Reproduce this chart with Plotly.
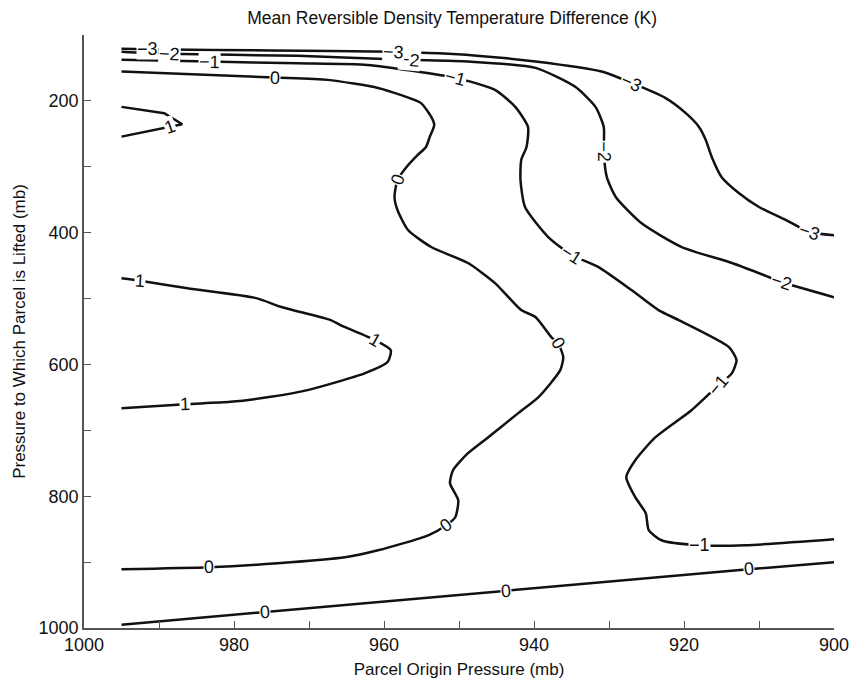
import plotly.graph_objects as go

# Contour lines (x = parcel origin pressure, y = lifted-to pressure), in mb
cm3_x = [995, 991.6, 975, 958.8, 948, 939.8, 931.0, 927.0, 922.5, 919.8, 918.0, 917.1, 916.3, 915.0, 912.7, 910.0, 906.4, 903.3, 900]
cm3_y = [121, 121.8, 123.5, 125.6, 131, 140.3, 155.5, 172.7, 195.4, 218.2, 239.5, 259.2, 285.1, 315.4, 339.7, 361.0, 380.8, 399.0, 404]

cm2_x = [995, 989.3, 971.5, 957.1, 948.8, 939.8, 934.5, 931.8, 930.7, 930.7, 930.3, 929.1, 925.7, 920.3, 913.6, 908.7, 907.0, 900]
cm2_y = [125.6, 128.6, 131.6, 137.7, 140.3, 149.9, 178.7, 209.1, 239.5, 277.5, 315.4, 345.8, 385.3, 421.8, 446.1, 467.3, 474.9, 498]

cm1_x = [995, 983.3, 971.5, 962.2, 950.5, 945.2, 942.5, 940.8, 941.0, 941.7, 941.8, 941.2, 938.1, 935.0, 931.4, 927.0,
         923.4, 920.7, 914.0, 913.0, 913.6, 915.4, 919.0, 923.8, 926.5, 927.7, 926.5, 925.1, 924.7, 923.0, 918.0, 911.8, 900]
cm1_y = [137.7, 140.3, 143.0, 145.5, 165.0, 183.3, 209.1, 239.5, 269.9, 289.6, 320.0, 361.0, 406.6, 433.9, 452.2, 487.1,
         517.5, 532.7, 573.7, 593.4, 613.2, 631.4, 669.4, 710.4, 745.3, 771.1, 801.5, 825.8, 851.6, 866.8, 874.4, 874.4, 865.3]

c0a_x = [995, 974.6, 967.5, 960.8, 957.8, 955.1, 953.7, 953.3, 953.9, 954.4, 955.5, 957.1, 958.2, 958.6, 958.2, 956.8,
         953.7, 948.8, 945.2, 941.7, 939.8, 937.7, 936.8, 936.1, 936.5, 939.4, 942.1, 946.1, 948.8, 950.8, 951.2, 950.1,
         950.5, 951.7, 954.1, 960.8, 965.2, 974.2, 983.3, 995]
c0a_y = [155.5, 164.6, 168.1, 180.3, 190.9, 203.0, 224.3, 236.5, 254.7, 269.9, 282.0, 301.8, 320.0, 345.8, 365.6, 396.0,
         421.8, 446.1, 476.5, 517.5, 528.1, 558.5, 567.6, 588.9, 608.6, 649.6, 673.9, 710.4, 734.7, 760.5, 780.3, 806.1,
         831.9, 844.1, 859.3, 882.1, 892.7, 901.8, 907.9, 911.0]

c0b_x = [995, 975.9, 955.5, 943.7, 911.4, 900]
c0b_y = [995, 975.7, 955.0, 943.9, 911.0, 900.3]

c1a_x = [995, 989.3, 986.9, 988.6, 992.0, 995]
c1a_y = [209.1, 218.7, 235.4, 239.5, 246.6, 254.2]

c1b_x = [995, 992.5, 986.2, 976.9, 973.8, 967.1, 965.8, 961.2, 959.1, 959.5, 962.6, 970.2, 975.1, 980.5, 986.5, 995]
c1b_y = [469.3, 473.0, 484.5, 499.7, 512.5, 532.7, 540.3, 563.1, 578.3, 596.0, 613.6, 639.0, 649.2, 656.8, 660.3, 666.4]

# Contour labels (drawn in this order; later ones sit on top)
lab_text = ["\u22122", "\u22122", "\u22123", "\u22123", "\u22121", "0", "\u22121", "\u22123", "\u22122", "0", "1",
            "\u22121", "0", "1", "\u22123", "\u22122", "1", "0", "\u22121", "0", "\u22121", "0", "0", "0", "1"]
lab_x = [988.6, 956.6, 991.6, 958.8, 983.3, 974.6, 950.5, 927.0, 930.7, 958.2, 988.6,
         935.0, 936.8, 961.2, 903.3, 907.0, 992.5, 983.3, 915.4, 951.7, 918.0, 911.4, 943.7, 975.9, 986.5]
lab_y = [129.5, 138.5, 121.8, 125.6, 140.3, 164.6, 165.0, 172.7, 277.5, 320.0, 239.5,
         433.9, 567.6, 563.1, 399.0, 474.9, 473.0, 907.9, 631.4, 844.1, 874.4, 911.0, 943.9, 975.7, 660.3]
lab_ang = [3, 5, 0, 3, 1, 2, 15, 24, 90, -70, -20,
           32, 60, 30, 18, 18, 4, -1, -50, -35, 0, -5, -5, -5, -2]

x_ticks = list(range(900, 1001, 10))
x_ticktext = [str(v) if v % 20 == 0 else "" for v in x_ticks]
y_ticks = list(range(100, 1001, 100))
y_ticktext = [str(v) if v % 200 == 0 else "" for v in y_ticks]

FONT = "Liberation Sans, Arial, sans-serif"
fig = go.Figure()
line_style = dict(color="#111111", width=2.5)
for xs, ys, shape in [(cm3_x, cm3_y, "spline"), (cm2_x, cm2_y, "spline"), (cm1_x, cm1_y, "spline"),
                      (c0a_x, c0a_y, "spline"), (c0b_x, c0b_y, "linear"), (c1a_x, c1a_y, "linear"),
                      (c1b_x, c1b_y, "spline")]:
    fig.add_trace(go.Scatter(x=xs, y=ys, mode="lines", line=dict(shape=shape, smoothing=0.6, **line_style),
                             hoverinfo="skip", showlegend=False))

for t, x, y, a in zip(lab_text, lab_x, lab_y, lab_ang):
    fig.add_annotation(x=x, y=y, xref="x", yref="y", text=t, showarrow=False, textangle=a,
                       font=dict(family=FONT, size=18, color="#111111"),
                       bgcolor="white", borderpad=0)

tick_font = dict(family=FONT, size=18, color="#111111")
title_font = dict(family=FONT, size=17, color="#111111")
fig.update_layout(
    width=853, height=686,
    margin=dict(l=84, r=19, t=35, b=58, autoexpand=False),
    paper_bgcolor="white", plot_bgcolor="white",
    title=dict(text="Mean Reversible Density Temperature Difference (K)", x=0.53, xanchor="center",
               y=1 - 18 / 686, yanchor="middle", yref="container",
               font=dict(family=FONT, size=17.5, color="#111111")),
    xaxis=dict(range=[1000, 900], tickvals=x_ticks, ticktext=x_ticktext, ticks="inside", ticklen=7,
               tickcolor="#555555", tickwidth=1.3, showline=True, linecolor="#555555", linewidth=1.6,
               showgrid=False, zeroline=False, tickfont=tick_font, automargin=False,
               title=dict(text="Parcel Origin Pressure (mb)", font=title_font, standoff=9)),
    yaxis=dict(range=[1000, 100], tickvals=y_ticks, ticktext=y_ticktext, ticks="inside", ticklen=7,
               tickcolor="#555555", tickwidth=1.3, showline=True, linecolor="#555555", linewidth=1.6,
               showgrid=False, zeroline=False, tickfont=tick_font, automargin=False,
               title=dict(text="Pressure to Which Parcel is Lifted (mb)", font=title_font, standoff=9)),
)

fig.write_html("out.html", config={"displayModeBar": False})
with open("out.html", encoding="utf-8") as f:
    html = f.read()
html = html.replace("<head>", "<head><style>html,body{margin:0;padding:0;overflow:hidden;}</style>", 1)
with open("out.html", "w", encoding="utf-8") as f:
    f.write(html)
